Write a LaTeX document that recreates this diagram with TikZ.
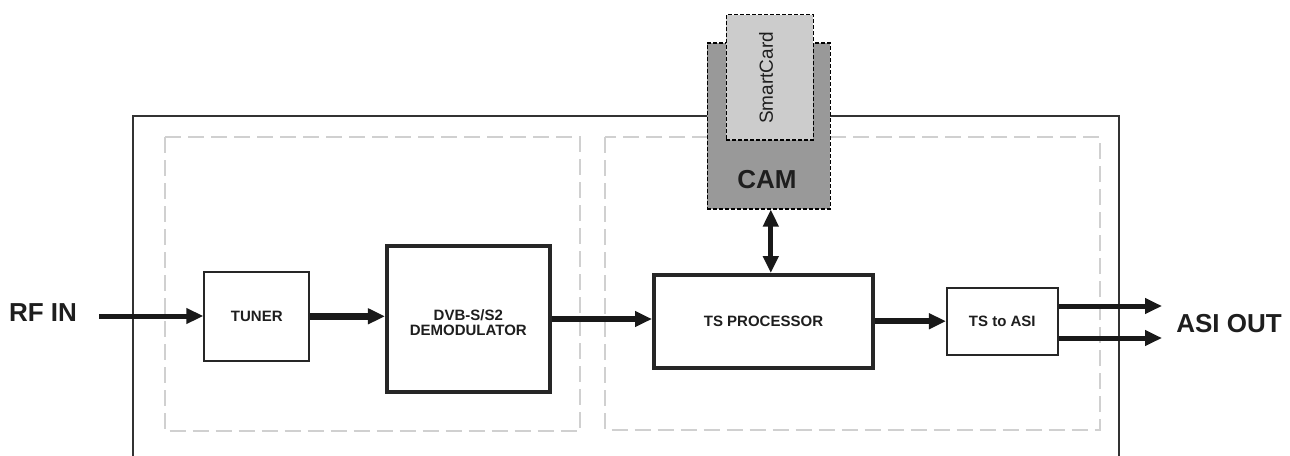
\documentclass[tikz,border=0pt]{standalone}
\usepackage{fontspec}
\setmainfont{Liberation Sans}
\usetikzlibrary{arrows.meta}
\definecolor{txt}{HTML}{1E1E1E}
\definecolor{camgray}{HTML}{999999}
\definecolor{cardgray}{HTML}{CCCCCC}
\definecolor{zonegray}{HTML}{D0D0D0}
\begin{document}
\begin{tikzpicture}[x=1pt,y=-1pt,
  thinbox/.style={draw=black!85, line width=2pt, fill=white, inner sep=0pt, text=txt,
    font=\fontsize{15}{15}\selectfont\bfseries, align=center},
  thickbox/.style={thinbox, line width=4pt},
  zone/.style={draw=zonegray, line width=2pt, dash pattern=on 16pt off 7pt},
  slot/.style={draw=black, line width=1.5pt, dash pattern=on 4pt off 2pt, inner sep=0pt},
  biglabel/.style={font=\fontsize{26}{26}\selectfont\bfseries, text=txt, inner sep=0pt},
  flow/.style={draw=black!90, line width=#1, -{Triangle[length=17pt,width=15pt]}},
  flow/.default=5pt
]
\useasboundingbox (0,0) rectangle (1290,455);
% outer enclosure
\draw[draw=black!80, line width=2pt] (133,470) -- (133,116) -- (1119,116) -- (1119,470);
% zones
\draw[zone] (164.5,137) rectangle (580,431);
\draw[zone] (605,137) rectangle (1100,429.5);
% CAM and SmartCard
\node[slot, fill=camgray, minimum width=123pt, minimum height=166pt] (cam) at (768.8,125.8) {};
\node[slot, fill=cardgray, minimum width=87pt, minimum height=125.5pt] (card) at (769.8,77.3) {};
\node[rotate=90, font=\fontsize{19}{19}\selectfont, text=txt, inner sep=0pt] (cardlbl) at (766,78) {SmartCard};
\node[biglabel] (camlbl) at (767,180) {CAM};
% blocks
\node[thinbox, minimum width=105pt, minimum height=89pt] (tuner) at (256.8,316.3) {TUNER};
\node[thickbox, minimum width=162.7pt, minimum height=146pt] (demod) at (468.3,319) {};
\node[font=\fontsize{15}{15}\selectfont\bfseries, text=txt, align=center, inner sep=0pt]
  (demodlbl) at (468.3,322.5) {DVB-S/S2\\DEMODULATOR};
\node[thickbox, minimum width=219pt, minimum height=93pt] (tsp) at (763.5,321.5) {TS PROCESSOR};
\node[thinbox, minimum width=110.7pt, minimum height=67pt] (asi) at (1002.3,321.2) {TS to ASI};
% labels
\node[biglabel] (rfin) at (43,313) {RF IN};
\node[biglabel] (asiout) at (1229,324) {ASI OUT};
\coordinate (rfstart) at (99,316);
\coordinate (out1) at (1162,306);
\coordinate (out2) at (1162,338);
% connectors
\draw[flow=5pt] (rfstart) -- (rfstart -| tuner.west);
\draw[flow=7pt] (tuner.east) -- (tuner.east -| demod.west);
\draw[flow=6pt] (demod.east) -- (demod.east -| tsp.west);
\draw[flow=6pt] (tsp.east |- asi.west) -- (asi.west);
\draw[flow=5pt] (asi.east |- out1) -- (out1);
\draw[flow=5pt] (asi.east |- out2) -- (out2);
\draw[draw=black!90, line width=5pt, {Triangle[length=17pt,width=15pt]}-{Triangle[length=17pt,width=15pt]}]
  ([xshift=2pt]cam.south) -- ([xshift=2pt]cam.south |- tsp.north);
\end{tikzpicture}
\end{document}
